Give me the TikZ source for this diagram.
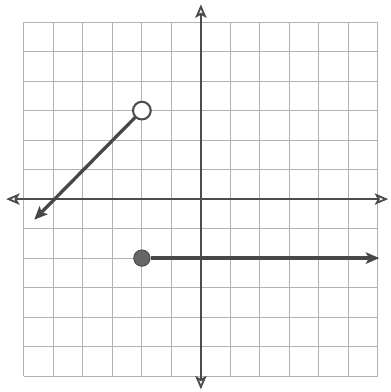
\documentclass[tikz,border=0pt]{standalone}
\usetikzlibrary{arrows.meta}

\begin{document}
\begin{tikzpicture}[>={Stealth[open,length=13pt,width=11pt,inset=3pt]},
  gridline/.style={gray!60,line width=0.8pt},
  axis/.style={<->,black!70,line width=1.8pt},
  piece/.style={black!72,line width=3.2pt},
  opendot/.style={circle,draw=black!70,line width=2pt,fill=white,inner sep=0pt,minimum size=0.6cm},
  closeddot/.style={circle,draw=black!70,line width=1pt,fill=black!60,inner sep=0pt,minimum size=0.55cm}]
\useasboundingbox[fill=white] (-6.81,-6.54) rectangle (6.44,6.75);
\draw[gridline] (-6,-6) grid (6,6);
% axes
\coordinate (xl) at (-6.6,0);
\coordinate (xr) at (6.35,0);
\coordinate (yb) at (0,-6.45);
\coordinate (yt) at (0,6.6);
\draw[axis] (xl) -- (xr);
\draw[axis] (yb) -- (yt);
% pieces
\node[opendot] (p) at (-2,3) {};
\coordinate (pend) at (-5.65,-0.7);
\draw[piece,->] (p) -- (pend);
\node[closeddot] (q) at (-2,-2) {};
\coordinate (qend) at (6.05,-2);
\draw[piece,->] (q) -- (qend);
\end{tikzpicture}
\end{document}
